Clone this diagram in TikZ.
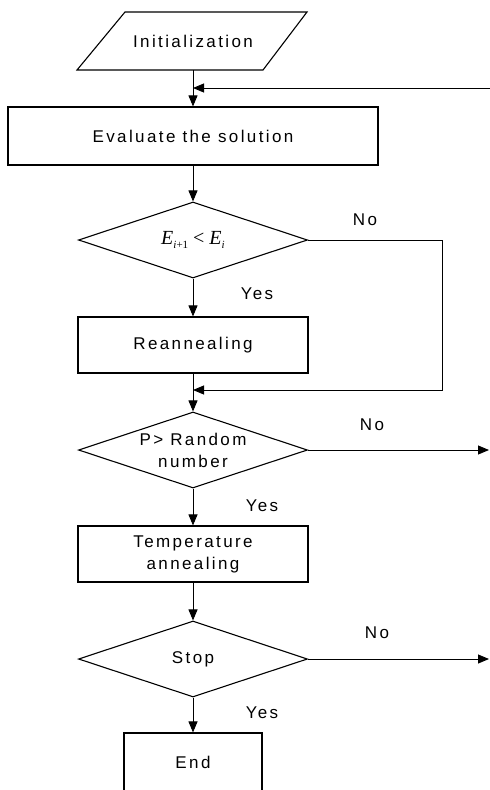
\documentclass[tikz,border=0pt]{standalone}
\usepackage{fontspec}
\setmainfont{Liberation Sans}[LetterSpace=14]
\newfontfamily\tnrfont{Liberation Serif}
\usetikzlibrary{shapes.geometric,arrows.meta}
\begin{document}
\begin{tikzpicture}[x=1pt,y=-1pt]
\tikzset{
  every node/.style={font=\fontsize{17}{22}\selectfont},
  proc/.style={draw, line width=1.1pt, inner sep=0pt, align=center},
  decision/.style={draw, diamond, line width=1.1pt, inner sep=0pt, aspect=3,
                   minimum width=229pt, minimum height=76pt},
  arr/.style={line width=0.9pt, -{Triangle[length=11pt,width=9pt]}},
  lbl/.style={inner sep=0pt}
}
\useasboundingbox (0,0) rectangle (490,790);
\clip (0,0) rectangle (490,790);
\fill[white] (0,0) rectangle (490,790);

% Initialization (parallelogram)
\node[inner sep=0pt, minimum width=186pt, minimum height=58pt] (init) at (193,41) {Initialization};
\draw[line width=1.1pt] (125,12) -- (307,12) -- (263,70) -- (77,70) -- cycle;

\node[proc, minimum width=370pt, minimum height=58pt] (eval) at (193,136) {Evaluate the solution};
\node[decision] (d1) at (193,240) {\tnrfont\fontsize{20}{20}\selectfont\itshape E\raisebox{-0.35ex}{\fontsize{11}{11}\selectfont i\upshape+1}\upshape\ <\ \itshape E\raisebox{-0.35ex}{\fontsize{11}{11}\selectfont i}};
\node[proc, minimum width=230pt, minimum height=56pt] (reann) at (193,345) {Reannealing};
\node[decision, label={[lbl, align=center]center:P> Random\\number}] (d2) at (193,450) {};
\node[proc, minimum width=230pt, minimum height=56pt] (temp) at (193,554) {Temperature\\annealing};
\node[decision] (d3) at (193,659) {Stop};
\node[proc, minimum width=138pt, minimum height=58pt] (end) at (193,762) {End};

% labels
\node[lbl] (no1) at (365,220) {No};
\node[lbl] (yes1) at (257,294) {Yes};
\node[lbl] (no2) at (372,425) {No};
\node[lbl] (yes2) at (262,506) {Yes};
\node[lbl] (no3) at (377,633) {No};
\node[lbl] (yes3) at (262,713) {Yes};

% free ends
\coordinate (fb) at (490,88);
\coordinate (c1) at (442,390);
\coordinate (o2) at (489,450);
\coordinate (o3) at (489,659);

% connectors
\draw[arr] (init.south) -- (eval.north);
\draw[arr] (fb) -- (fb -| init.south);
\draw[arr] (eval.south) -- (d1.north);
\draw[arr] (d1.south) -- (reann.north);
\draw[arr] (d1.east) -| (c1) -- (c1 -| reann.south);
\draw[arr] (reann.south) -- (d2.north);
\draw[arr] (d2.east) -- (o2);
\draw[arr] (d2.south) -- (temp.north);
\draw[arr] (temp.south) -- (d3.north);
\draw[arr] (d3.east) -- (o3);
\draw[arr] (d3.south) -- (end.north);
\end{tikzpicture}
\end{document}
